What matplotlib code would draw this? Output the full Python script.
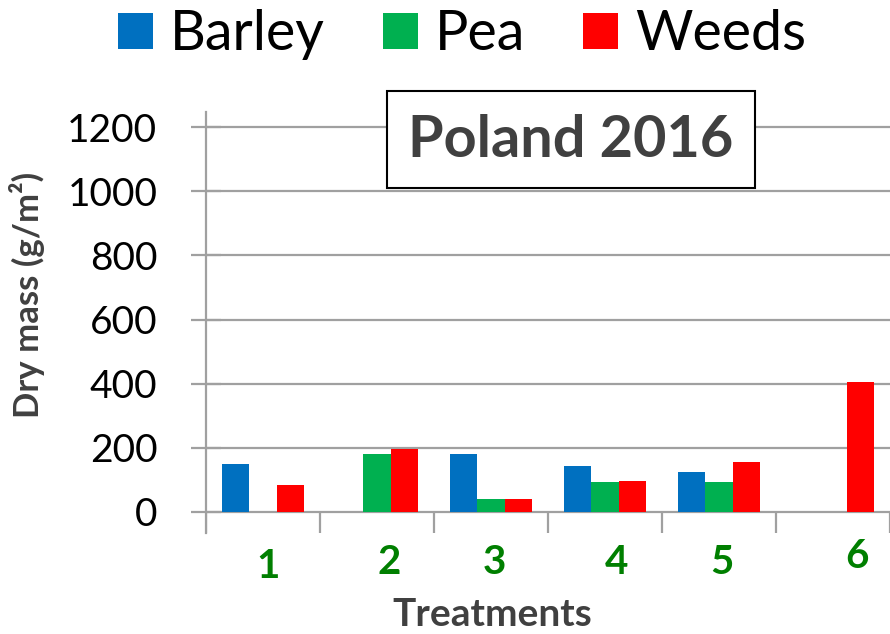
import matplotlib
matplotlib.use("Agg")
import matplotlib.pyplot as plt
from matplotlib.patches import Rectangle
import numpy as np

# ---- data ----
treatments = ["1", "2", "3", "4", "5", "6"]
barley = [150, 0, 182, 144, 124, 0]
pea = [0, 182, 41, 92, 92, 0]
weeds = [85, 196, 41, 98, 156, 406]
series_names = ["Barley", "Pea", "Weeds"]
colors = ["#0070C0", "#00B050", "#FF0000"]
yticks = [0, 200, 400, 600, 800, 1000, 1200]
title_text = "Poland 2016"
ylabel_text = "Dry mass (g/m²)"
xlabel_text = "Treatments"
# manual label nudges (category units) and vertical pixel centres
label_dx = [0.04, 0.11, 0.03, 0.10, 0.03, 0.21]
label_ypx = [567, 563, 563, 562, 563, 557]

plt.rcParams['font.family'] = ['Lato', 'DejaVu Sans']

W, H = 890, 634
fig = plt.figure(figsize=(W / 100, H / 100), dpi=100)
ax = fig.add_axes([206 / W, (H - 533) / H, (W - 206) / W, (533 - 112) / H])

x = np.arange(len(treatments))
bw = 0.237
bars = []
for k, (vals, c, name) in enumerate(zip([barley, pea, weeds], colors, series_names)):
    b = ax.bar(x + (k - 1) * bw, vals, width=bw, color=c, label=name, zorder=3)
    bars.append(b)

ax.set_xlim(-0.5, len(treatments) - 0.5)
ax.set_ylim(-65.5, 1247)

grid_c = "#A0A0A0"
for t in yticks:
    ax.axhline(t, color=grid_c, lw=1.6, zorder=1)
ax.vlines(np.arange(len(treatments) + 1) - 0.5, -65.5, 0, color=grid_c, lw=1.6, zorder=1)

for s in ["top", "right", "bottom"]:
    ax.spines[s].set_visible(False)
ax.spines["left"].set_color(grid_c)
ax.spines["left"].set_linewidth(1.6)

ax.set_yticks(yticks)
ax.set_yticklabels([str(t) for t in yticks], fontsize=28, color="black")
ax.tick_params(axis="y", direction="inout", length=22, width=1.6, color=grid_c, pad=24)
ax.set_xticks([])

ax.set_ylabel(ylabel_text, fontsize=25, fontweight="bold", color="#404040", va="center")
ax.yaxis.set_label_coords((27 - 206) / 684, (533 - 295) / 421)

for i, lab in enumerate(treatments):
    ax.annotate(lab, xy=(x[i] + label_dx[i], 1 - label_ypx[i] / H),
                xycoords=("data", "figure fraction"),
                ha="center", va="center", fontsize=29, fontweight="bold",
                color="#007F00", annotation_clip=False)

fig.text(492 / W, 1 - 614 / H, xlabel_text, ha="center", va="center",
         fontsize=28, fontweight="bold", color="#404040")

# title box
rect = Rectangle((387 / W, 1 - 188 / H), 368 / W, 97 / H, transform=fig.transFigure,
                 facecolor="white", edgecolor="black", lw=1.5, zorder=5)
fig.patches.append(rect)
fig.text(571 / W, 1 - 141 / H, title_text, ha="center", va="center",
         fontsize=41.5, fontweight="bold", color="#404040", zorder=6)

leg = fig.legend(handles=bars, labels=series_names, loc="center",
                 bbox_to_anchor=(462 / W, 1 - 35 / H), ncol=3, frameon=False,
                 fontsize=40, handlelength=0.63, handleheight=0.63,
                 handletextpad=0.3, columnspacing=1.05, borderpad=0, borderaxespad=0)

fig.savefig("out.png", dpi=100)
